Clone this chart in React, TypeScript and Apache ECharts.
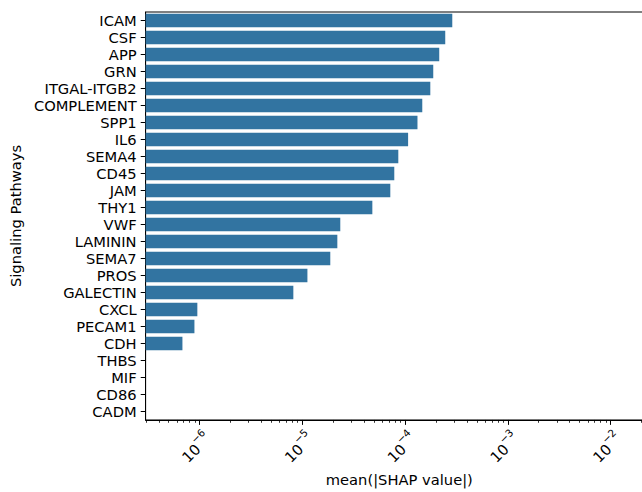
import React, { useEffect, useRef } from 'react';
import * as echarts from 'echarts';

const categories = ['ICAM', 'CSF', 'APP', 'GRN', 'ITGAL-ITGB2', 'COMPLEMENT', 'SPP1', 'IL6', 'SEMA4', 'CD45', 'JAM', 'THY1', 'VWF', 'LAMININ', 'SEMA7', 'PROS', 'GALECTIN', 'CXCL', 'PECAM1', 'CDH', 'THBS', 'MIF', 'CD86', 'CADM'];
const meanShap = [2.88e-4, 2.46e-4, 2.15e-4, 1.88e-4, 1.76e-4, 1.47e-4, 1.32e-4, 1.07e-4, 8.59e-5, 7.85e-5, 7.18e-5, 4.8e-5, 2.34e-5, 2.19e-5, 1.87e-5, 1.12e-5, 8.17e-6, 9.5e-7, 8.9e-7, 6.8e-7, 0, 0, 0, 0];
const majorTicks = [1e-6, 1e-5, 1e-4, 1e-3, 1e-2];
const decades = [1e-7, 1e-6, 1e-5, 1e-4, 1e-3, 1e-2];
const minorMultipliers = [2, 3, 4, 5, 6, 7, 8, 9];
const xMin = 2.98e-7;
const xMax = 2.59e-2;

const FONT = 'DejaVu Sans';
const FS = 14.7;
const BLUE = '#3274a1';
const INK = '#000000';

export default function App() {
  const ref = useRef<HTMLDivElement>(null);
  useEffect(() => {
    if (!ref.current) return;
    const chart = echarts.init(ref.current, null, { renderer: 'svg' });
    const minorTicks = decades
      .flatMap((d) => minorMultipliers.map((m) => m * d))
      .filter((v) => v > xMin && v < xMax);
    const fmt = (v: number) => {
      const e = Math.round(Math.log10(v));
      if (Math.abs(Math.log10(v) - e) > 1e-6) return '';
      return `{b|10}{s|${e < 0 ? '\u2212' + -e : String(e)}}`;
    };
    chart.setOption({
      animation: false,
      grid: {
        left: 145,
        top: 12,
        bottom: 71,
        right: 0,
        show: true,
        borderColor: INK,
        borderWidth: 1,
        backgroundColor: 'transparent',
      },
      xAxis: [
        {
          type: 'log',
          logBase: 10,
          min: xMin,
          max: xMax,
          startValue: xMin,
          position: 'bottom',
          name: 'mean(|SHAP value|)',
          nameLocation: 'middle',
          nameGap: 50,
          nameTextStyle: { fontFamily: FONT, fontSize: FS, color: INK },
          axisLine: { show: true, lineStyle: { color: INK, width: 1 } },
          axisTick: { show: true, length: 4.9, customValues: majorTicks, lineStyle: { color: INK, width: 1 } },
          axisLabel: {
            show: true,
            customValues: majorTicks,
            rotate: 45,
            align: 'center',
            verticalAlign: 'middle',
            margin: 21,
            padding: [0, 14, 0, 0],
            formatter: fmt,
            rich: {
              b: { fontFamily: FONT, fontSize: FS, color: INK, lineHeight: 20, verticalAlign: 'bottom' },
              s: { fontFamily: FONT, fontSize: 10.3, color: INK, lineHeight: 12, verticalAlign: 'top' },
            },
          },
          splitLine: { show: false },
          minorTick: { show: false },
        },
        {
          type: 'log',
          logBase: 10,
          min: xMin,
          max: xMax,
          position: 'bottom',
          axisLine: { show: false },
          axisTick: { show: true, length: 2.8, customValues: minorTicks, lineStyle: { color: INK, width: 0.8 } },
          axisLabel: { show: false },
          splitLine: { show: false },
        },
      ],
      yAxis: {
        type: 'category',
        data: categories,
        inverse: true,
        name: 'Signaling Pathways',
        nameLocation: 'middle',
        nameGap: 120,
        nameTextStyle: { fontFamily: FONT, fontSize: FS, color: INK },
        axisLine: { show: true, lineStyle: { color: INK, width: 1 } },
        axisTick: { show: true, alignWithLabel: true, length: 4.9, lineStyle: { color: INK, width: 1 } },
        axisLabel: { fontFamily: FONT, fontSize: FS, color: INK, margin: 9, interval: 0 },
        splitLine: { show: false },
      },
      series: [
        {
          type: 'bar',
          xAxisIndex: 0,
          data: meanShap.map((v) => (v > 0 ? v : '-')),
          barCategoryGap: '20%',
          itemStyle: { color: BLUE },
          silent: true,
        },
      ],
    });
    return () => chart.dispose();
  }, []);
  return (
    <div style={{ position: 'absolute', left: 0, top: 0, width: 642, height: 492, overflow: 'hidden' }}>
      <div ref={ref} style={{ width: 653, height: 492 }} />
    </div>
  );
}
